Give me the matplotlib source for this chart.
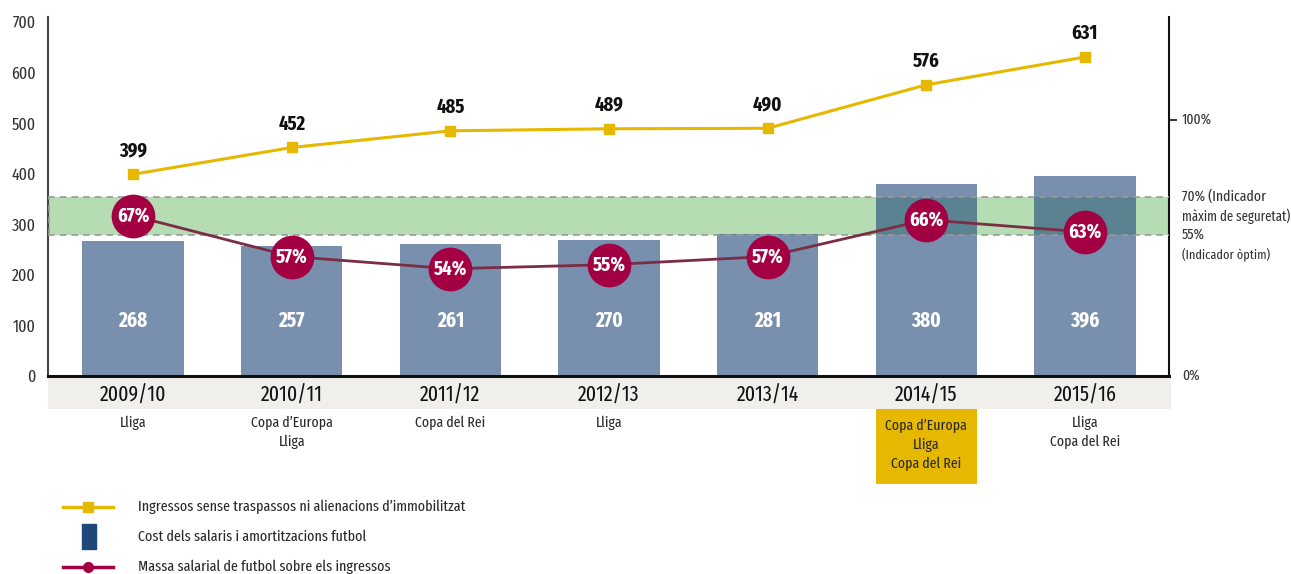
import matplotlib
matplotlib.use("Agg")
import matplotlib.pyplot as plt
from matplotlib import font_manager
from matplotlib.patches import Rectangle
from matplotlib.lines import Line2D
import matplotlib.transforms as mtransforms

names = {f.name for f in font_manager.fontManager.ttflist}
FONT = "DejaVu Sans"
for cand in ["Fira Sans Extra Condensed", "Fira Sans Condensed", "Asap Condensed", "Barlow Semi Condensed"]:
    if cand in names:
        FONT = cand
        break
plt.rcParams['font.family'] = [FONT, 'DejaVu Sans']

# ---- data ----
seasons = ["2009/10", "2010/11", "2011/12", "2012/13", "2013/14", "2014/15", "2015/16"]
titles = ["Lliga", "Copa d’Europa\nLliga", "Copa del Rei", "Lliga", "",
          "Copa d’Europa\nLliga\nCopa del Rei", "Lliga\nCopa del Rei"]
highlight = [False, False, False, False, False, True, False]
revenue = [399, 452, 485, 489, 490, 576, 631]
wages = [268, 257, 261, 270, 281, 380, 396]
ratio = [67, 57, 54, 55, 57, 66, 63]
left_ticks = [0, 100, 200, 300, 400, 500, 600, 700]
right_ticks = [0, 55, 70, 100]
right_main = ["0%", "55%", "70% (Indicador", "100%"]
right_sub = ["", "(Indicador òptim)", "màxim de seguretat)", ""]
band = (55, 70)
legend_labels = ["Ingressos sense traspassos ni alienacions d’immobilitzat",
                 "Cost dels salaris i amortitzacions futbol",
                 "Massa salarial de futbol sobre els ingressos"]

YELLOW = "#e6b800"
BAR = "#7890ad"
BAR_BAND = "#5b8290"
MAROON = "#a30044"
LINE_M = "#7a2d45"
GREEN = "#b5dcb2"
GRAYBAND = "#f0efeb"
TXT = "#2a2a2a"

fig = plt.figure(figsize=(12.91, 5.74), dpi=100)
ax = fig.add_axes([0.0372, 0.3449, 0.8683, 0.6254])
ax.set_xlim(-0.536, 6.53)
ax.set_ylim(0, 710)
x = list(range(len(seasons)))
W = 0.64

# right percentage axis (behind)
ax2 = ax.twinx()
ax2.set_ylim(0, 140)
ax2.set_zorder(0)
ax.set_zorder(1)
ax.patch.set_visible(False)
ax2.axhspan(band[0], band[1], color=GREEN, zorder=1, lw=0)

bars = ax.bar(x, wages, width=W, color=BAR, zorder=2)

# darker overlap of band on bars
bt = mtransforms.blended_transform_factory(ax.transAxes, ax2.transData)
for b in bars:
    ov = Rectangle((0, band[0]), 1, band[1] - band[0], transform=bt,
                   facecolor=BAR_BAND, lw=0, zorder=3)
    ax.add_patch(ov)
    ov.set_clip_path(b)

# dashed band borders
for y in band:
    ax.add_line(Line2D([0, 1], [y, y], transform=bt, color="#9a9a9a", lw=1.2,
                       ls=(0, (4, 3)), zorder=4))
ax.add_line(Line2D([0.001, 0.001], [band[0], band[1]], transform=bt, color="#9a9a9a", lw=1.2,
                   ls=(0, (4, 3)), zorder=4))

# revenue line
ax.plot(x, revenue, color=YELLOW, lw=2.2, marker="s", ms=7, zorder=6)
for xi, v in zip(x, revenue):
    ax.annotate(str(v), (xi, v), xytext=(0, 17), textcoords="offset points",
                ha="center", va="center", fontsize=14.5, fontweight="bold", color="#111111", zorder=7)
for xi, v in zip(x, wages):
    ax.annotate(str(v), (xi, 0), xytext=(0, 40), textcoords="offset points",
                ha="center", va="center", fontsize=15, fontweight="bold", color="white", zorder=7)

# ratio circles on a hidden scale
ax3 = ax.twinx()
ax3.set_ylim(27.7, 115.7)
ax3.axis("off")
ax3.set_zorder(2)
ax3.plot(x, ratio, color=LINE_M, lw=2, zorder=5)
ax3.plot(x, ratio, ls="none", marker="o", ms=31.5, color=MAROON, mec="none", zorder=6)
for xi, v in zip(x, ratio):
    ax3.text(xi, v, f"{v}%", ha="center", va="center", fontsize=14.5, fontweight="bold",
             color="white", zorder=7)

# spines and ticks
ax.spines["top"].set_visible(False)
ax.spines["right"].set_visible(False)
for s in ["top", "left", "bottom"]:
    ax2.spines[s].set_visible(False)
ax.spines["left"].set_color("#444444"); ax.spines["left"].set_linewidth(1.5)
ax.spines["bottom"].set_color("#111111"); ax.spines["bottom"].set_linewidth(2.2)
ax2.spines["right"].set_color("#111111"); ax2.spines["right"].set_linewidth(1.5)

ax.set_yticks(left_ticks)
ax.set_yticklabels([str(t) for t in left_ticks], fontsize=12.5, color="#333333")
ax.tick_params(axis="y", length=0, pad=9)
ax.set_xticks(x)
ax.set_xticklabels(seasons, fontsize=15.5, color="#111111")
ax.tick_params(axis="x", length=0, pad=6)

ax2.set_yticks([100])
ax2.set_yticklabels([""])
ax2.tick_params(axis="y", length=6, width=1.2, color="#111111", direction="out")
rt = mtransforms.blended_transform_factory(ax2.transAxes, ax2.transData)
for t, m, s in zip(right_ticks, right_main, right_sub):
    ax2.text(1.0115, t, m, transform=rt, ha="left", va="center", fontsize=10.8, color="#333333")
    if s:
        ax2.text(1.0115, t, s, ha="left", va="center", fontsize=10 if t == 70 else 9.6,
                 color="#333333",
                 transform=rt + mtransforms.ScaledTranslation(0, -20 / 100, fig.dpi_scale_trans))

# gray label band below axis
ax.add_patch(Rectangle((0, -0.092), 1.002, 0.09, transform=ax.transAxes, color=GRAYBAND, lw=0,
                       clip_on=False, zorder=0))

# titles below
tx = mtransforms.blended_transform_factory(ax.transData, ax.transAxes)
for xi, t, h in zip(x, titles, highlight):
    if h:
        ax.add_patch(Rectangle((xi - W / 2, -0.302), W, 0.21, transform=tx, color=YELLOW, lw=0,
                               clip_on=False))
        ax.text(xi, -0.118, t, transform=tx, ha="center", va="top", fontsize=10.8, linespacing=1.45,
                color=TXT)
    else:
        ax.text(xi, -0.11, t, transform=tx, ha="center", va="top", fontsize=10.8, linespacing=1.45,
                color=TXT)

# legend (manual)
ys = [1 - 507 / 574, 1 - 537 / 574, 1 - 567 / 574]
ft = fig.transFigure
fig.add_artist(Line2D([63 / 1291, 113 / 1291], [ys[0], ys[0]], color=YELLOW, lw=2.5, transform=ft))
fig.add_artist(Line2D([88 / 1291], [ys[0]], color=YELLOW, marker="s", ms=7, transform=ft))
fig.add_artist(Rectangle((82 / 1291, 1 - 549 / 574), 14 / 1291, 25 / 574, color="#1f4777", transform=ft))
fig.add_artist(Line2D([63 / 1291, 113 / 1291], [ys[2], ys[2]], color=MAROON, lw=2.5, transform=ft))
fig.add_artist(Line2D([88 / 1291], [ys[2]], color=MAROON, marker="o", ms=7, transform=ft))
for yy, lab in zip(ys, legend_labels):
    fig.text(138 / 1291, yy, lab, ha="left", va="center", fontsize=11, color=TXT)

fig.savefig("out.png", dpi=100)
